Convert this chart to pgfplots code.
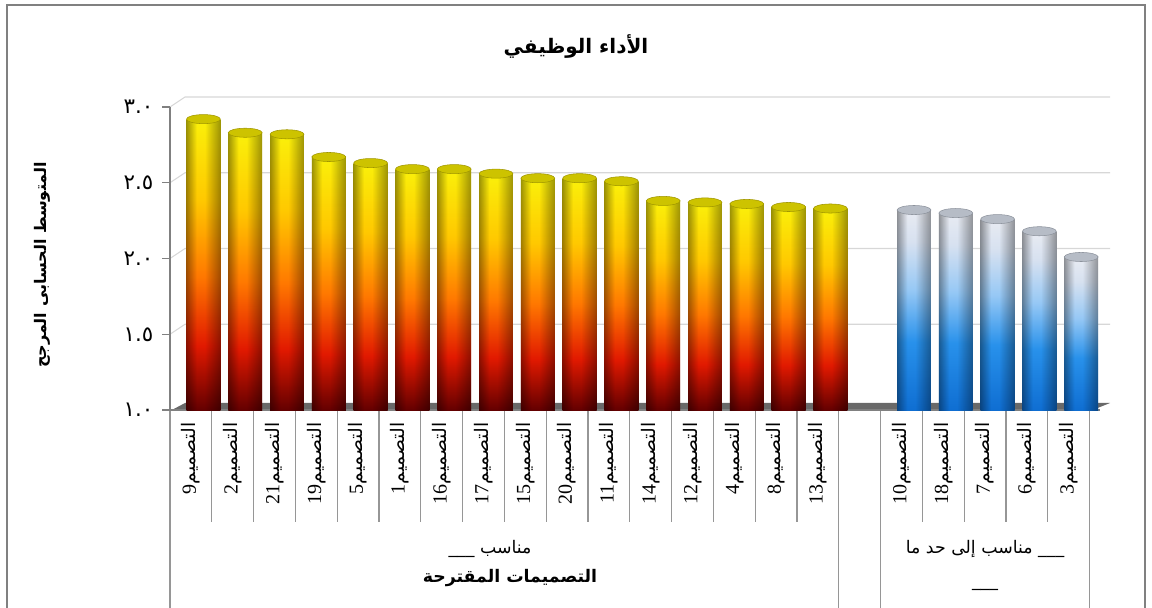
\documentclass[border=0pt]{standalone}
\usepackage{fontspec}
\setmainfont{Liberation Serif}
\newfontfamily\arabicfont[Script=Arabic]{DejaVu Sans}
\usepackage{pgfplots}
\pgfplotsset{compat=1.18}
\TeXXeTstate=1

\definecolor{rb0}{RGB}{100,0,0}
\definecolor{rb1}{RGB}{225,25,0}
\definecolor{rb2}{RGB}{255,120,0}
\definecolor{rb3}{RGB}{255,200,0}
\definecolor{rb4}{RGB}{250,240,10}
\definecolor{bb0}{RGB}{15,110,210}
\definecolor{bb1}{RGB}{40,145,235}
\definecolor{bb2}{RGB}{150,200,245}
\definecolor{bb3}{RGB}{215,225,240}
\definecolor{bb4}{RGB}{232,235,242}
\definecolor{cyE}{RGB}{160,160,160}
\definecolor{cyM}{RGB}{255,255,255}
\definecolor{capY}{RGB}{205,195,0}
\definecolor{capYd}{RGB}{160,150,0}
\definecolor{capB}{RGB}{182,188,198}
\definecolor{capBd}{RGB}{140,146,156}
\definecolor{sepgray}{RGB}{150,150,150}
\definecolor{axisgray}{RGB}{128,128,128}
\definecolor{gridc}{RGB}{215,215,215}
\definecolor{floorc}{RGB}{105,105,105}
\definecolor{framec}{RGB}{128,128,128}

\pgfdeclareverticalshading{redbar}{100bp}{color(0bp)=(rb0); color(25bp)=(rb0); color(36bp)=(rb1); color(48bp)=(rb2); color(61bp)=(rb3); color(75bp)=(rb4); color(100bp)=(rb4)}
\pgfdeclareverticalshading{bluebar}{100bp}{color(0bp)=(bb0); color(25bp)=(bb0); color(42bp)=(bb1); color(55bp)=(bb2); color(67bp)=(bb3); color(75bp)=(bb4); color(100bp)=(bb4)}
\pgfdeclarehorizontalshading{cylh}{100bp}{color(0bp)=(cyE); color(25bp)=(cyE); color(40bp)=(cyM); color(52bp)=(cyM); color(75bp)=(cyE); color(100bp)=(cyE)}

\pgfdeclareplotmark{capR}{\pgfpathellipse{\pgfpointorigin}{\pgfqpoint{12.7pt}{0pt}}{\pgfqpoint{0pt}{3.4pt}}\pgfusepathqfillstroke}

\newcommand\lab[1]{\beginR{\arabicfont\fontsize{14}{14}\selectfont التصميم}\beginL{\fontsize{15}{15}\selectfont #1}\endL\endR}

\pgfplotsset{
  barbase/.style={ybar, bar width=0.81, bar shift=0.3, draw=none, shade},
}
% one bar (x = slot, y = mean): gradient fill, cylinder shading, top cap
\newcommand\redbar[2]{%
  \addplot[barbase, shading=redbar] coordinates {(#1,#2)};
  \addplot[barbase, shading=cylh, blend mode=multiply] coordinates {(#1,#2)};
  \addplot[only marks, mark=capR, mark options={xshift=9.4pt, fill=capY, draw=capYd, line width=0.4pt}] coordinates {(#1,#2)};
}
\newcommand\bluebar[2]{%
  \addplot[barbase, shading=bluebar] coordinates {(#1,#2)};
  \addplot[barbase, shading=cylh, blend mode=multiply] coordinates {(#1,#2)};
  \addplot[only marks, mark=capR, mark options={xshift=9.4pt, fill=capB, draw=capBd, line width=0.4pt}] coordinates {(#1,#2)};
}

\begin{document}
\begin{tikzpicture}[x=0.75pt,y=0.75pt]
\useasboundingbox (0,0) rectangle (1152,607);
% frame
\draw[framec, line width=1.5pt] (7,-20) -- (7,602) -- (1145,602) -- (1145,-20);
% back wall grid lines
\foreach \yy in {107,182.75,258.5,334.25} {
  \draw[gridc, line width=0.8pt] (170,{607-\yy}) -- (185,{617-\yy}) -- (1110,{617-\yy});
}
% floor
\fill[floorc] (170,196) -- (1090,196) -- (1110,204) -- (185,204) -- cycle;

\begin{axis}[
  at={(127.5pt,147.75pt)}, anchor=south west,
  scale only axis, width=697.5pt, height=227.25pt,
  xmin=-0.5, xmax=21.75, ymin=0, ymax=2,
  clip mode=individual,
  y filter/.expression={y-1},
  axis lines*=left,
  axis line style={draw=axisgray, line width=0.8pt},
  tick align=outside, major tick length=6pt,
  ytick={0,0.5,1,1.5,2},
  yticklabels={{\arabicfont ١.٠},{\arabicfont ١.٥},{\arabicfont ٢.٠},{\arabicfont ٢.٥},{\arabicfont ٣.٠}},
  yticklabel style={font=\fontsize{16}{16}\selectfont, xshift=-3pt},
  ytick style={draw=axisgray, line width=0.8pt},
  xtick={0,...,21},
  xtick style={draw=none},
  xticklabels={{\lab{9}},{\lab{2}},{\lab{21}},{\lab{19}},{\lab{5}},{\lab{1}},{\lab{16}},{\lab{17}},{\lab{15}},{\lab{20}},{\lab{11}},{\lab{14}},{\lab{12}},{\lab{4}},{\lab{8}},{\lab{13}},{},{\lab{10}},{\lab{18}},{\lab{7}},{\lab{6}},{\lab{3}}},
  xticklabel style={rotate=90, anchor=east},
]
% group "مناسب"
\redbar{0}{2.92}
\redbar{1}{2.83}
\redbar{2}{2.82}
\redbar{3}{2.67}
\redbar{4}{2.63}
\redbar{5}{2.59}
\redbar{6}{2.59}
\redbar{7}{2.56}
\redbar{8}{2.53}
\redbar{9}{2.53}
\redbar{10}{2.51}
\redbar{11}{2.38}
\redbar{12}{2.37}
\redbar{13}{2.36}
\redbar{14}{2.34}
\redbar{15}{2.33}
% group "مناسب إلى حد ما"
\bluebar{17}{2.32}
\bluebar{18}{2.30}
\bluebar{19}{2.26}
\bluebar{20}{2.18}
\bluebar{21}{2.01}
\end{axis}

% category separators
\foreach \k in {1,...,15,18,19,20,21} {
  \draw[sepgray, line width=0.8pt] ({170+41.8*\k},196) -- ({170+41.8*\k},85);
}
\foreach \k in {0,16,17,22} {
  \draw[sepgray, line width=0.8pt] ({170+41.8*\k},196) -- ({170+41.8*\k},-10);
}
% group labels
\node[font=\arabicfont\fontsize{13}{13}\selectfont] at (490,58) {\beginR مناسب \_\_\_\endR};
\node[font=\arabicfont\fontsize{13}{13}\selectfont] at (985,58) {\beginR \_\_\_ مناسب إلى حد ما\endR};
\node[font=\arabicfont\fontsize{13}{13}\selectfont] at (985,18) {\_\_\_};
\node[font=\arabicfont\bfseries\fontsize{13}{13}\selectfont] at (510,29) {\beginR التصميمات المقترحة\endR};
% title and y label
\node[font=\arabicfont\bfseries\fontsize{15}{15}\selectfont] at (576,560) {\beginR الأداء الوظيفي\endR};
\node[rotate=90, font=\arabicfont\bfseries\fontsize{12}{12}\selectfont] at (42,342) {\beginR المتوسط الحسابى المرجح\endR};
\end{tikzpicture}
\end{document}
